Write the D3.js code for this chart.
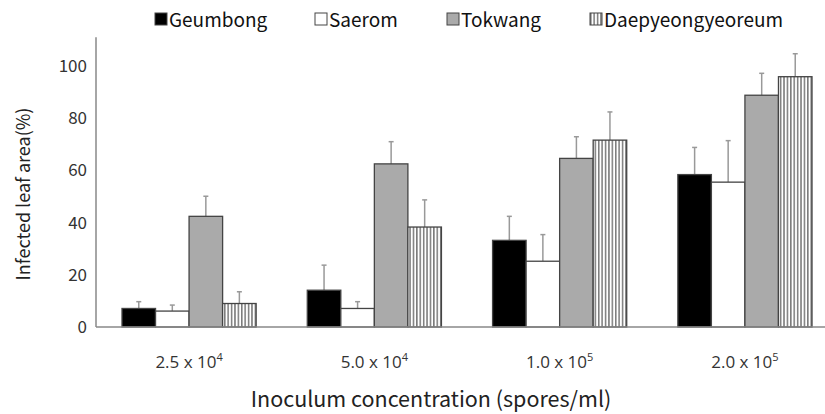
<!DOCTYPE html>
<html>
<head>
<meta charset="utf-8">
<script src="https://cdn.jsdelivr.net/npm/d3@7"></script>
<style>
  body { margin: 0; background: #fff; }
  svg text { font-family: "Noto Sans CJK KR", "Noto Sans", sans-serif; }
</style>
</head>
<body>
<div id="chart"></div>
<script>
const concentrations = ["2.5 x 10|4", "5.0 x 10|4", "1.0 x 10|5", "2.0 x 10|5"];
const cultivars = ["Geumbong", "Saerom", "Tokwang", "Daepyeongyeoreum"];
// mean infected leaf area (%) per cultivar, one value per concentration
const geumbong = [7.1, 14.1, 33.2, 58.4];
const saerom = [6.1, 7.1, 25.2, 55.5];
const tokwang = [42.4, 62.5, 64.6, 88.8];
const daepyeong = [9.0, 38.3, 71.6, 95.9];
// top of the error bar
const geumbongErr = [9.7, 23.7, 42.4, 68.8];
const saeromErr = [8.4, 9.7, 35.4, 71.4];
const tokwangErr = [50.1, 71.0, 72.9, 97.2];
const daepyeongErr = [13.5, 48.7, 82.4, 104.7];
const yTicks = [0, 20, 40, 60, 80, 100];

const width = 825, height = 414;
const font = "\"Noto Sans CJK KR\", \"Noto Sans\", sans-serif";
const means = [geumbong, saerom, tokwang, daepyeong];
const errs = [geumbongErr, saeromErr, tokwangErr, daepyeongErr];
const fills = ["#000", "#fff", "#aaa", "url(#vhatch)"];

const svg = d3.select("#chart").append("svg")
  .attr("width", width).attr("height", height);

const pat = svg.append("defs").append("pattern")
  .attr("id", "vhatch").attr("patternUnits", "userSpaceOnUse")
  .attr("width", 3.4).attr("height", 10);
pat.append("rect").attr("width", 3.4).attr("height", 10).attr("fill", "#fff");
pat.append("line").attr("x1", 0.8).attr("x2", 0.8).attr("y1", 0).attr("y2", 10)
  .attr("stroke", "#333").attr("stroke-width", 1);

const y = d3.scaleLinear().domain([0, 100]).range([327, 66]);
const x0 = d3.scaleBand().domain(concentrations).range([122, 812]).paddingInner(0.276);
const x1 = d3.scaleBand().domain(cultivars).range([0, x0.bandwidth()]);

// axes
svg.append("line").attr("x1", 96).attr("x2", 96)
  .attr("y1", y(0)).attr("y2", y(111)).attr("stroke", "#888").attr("stroke-width", 1.5);

const yAxis = svg.append("g").attr("transform", "translate(96,0)")
  .call(d3.axisLeft(y).tickValues(yTicks).tickSize(0).tickPadding(9));
yAxis.select(".domain").remove();
yAxis.selectAll("text").style("font-size", "17px").style("font-family", font).attr("fill", "#333");

// bars
const groups = svg.selectAll(".grp").data(concentrations).enter().append("g")
  .attr("transform", d => `translate(${x0(d)},0)`);

groups.each(function(c, i) {
  const g = d3.select(this);
  cultivars.forEach((cv, k) => {
    const bx = x1(cv), bw = x1.bandwidth();
    const cx = bx + bw / 2;
    g.append("line").attr("x1", cx).attr("x2", cx)
      .attr("y1", y(means[k][i])).attr("y2", y(errs[k][i]))
      .attr("stroke", "#999").attr("stroke-width", 1.5);
    g.append("line").attr("x1", cx - 2.5).attr("x2", cx + 2.5)
      .attr("y1", y(errs[k][i])).attr("y2", y(errs[k][i]))
      .attr("stroke", "#999").attr("stroke-width", 1.5);
    g.append("rect").attr("x", bx).attr("width", bw)
      .attr("y", y(means[k][i])).attr("height", y(0) - y(means[k][i]))
      .attr("fill", fills[k]).attr("stroke", "#444").attr("stroke-width", 1.3);
  });
});

svg.append("line").attr("x1", 96).attr("x2", 825)
  .attr("y1", y(0)).attr("y2", y(0)).attr("stroke", "#888").attr("stroke-width", 1.5);

// x category labels with superscript exponent
const lab = svg.selectAll(".xl").data(concentrations).enter().append("text")
  .attr("x", d => x0(d) + x0.bandwidth() / 2).attr("y", 368)
  .attr("text-anchor", "middle").style("font-size", "17px")
  .style("font-family", "\"Open Sans\", sans-serif").attr("fill", "#333");
lab.append("tspan").text(d => d.split("|")[0]);
lab.append("tspan").attr("dy", -7).style("font-size", "11px").text(d => d.split("|")[1]);

svg.append("text").attr("x", 431).attr("y", 407).attr("text-anchor", "middle")
  .style("font-size", "21.5px").style("font-family", font).attr("fill", "#222")
  .text("Inoculum concentration (spores/ml)");

svg.append("text").attr("transform", "translate(30,194) rotate(-90)")
  .attr("text-anchor", "middle").style("font-size", "18px").style("font-family", font)
  .attr("fill", "#222")
  .text("Infected leaf area(%)");

// legend
const legX = [155, 315, 447, 590];
const leg = svg.selectAll(".leg").data(cultivars).enter().append("g")
  .attr("transform", (d, i) => `translate(${legX[i]},13)`);
leg.append("rect").attr("width", 12).attr("height", 12)
  .attr("fill", (d, i) => fills[i]).attr("stroke", "#444").attr("stroke-width", 1);
leg.append("text").attr("x", 14).attr("y", 14).style("font-size", "19px")
  .style("font-family", font).attr("fill", "#111")
  .text(d => d);
</script>
</body>
</html>
